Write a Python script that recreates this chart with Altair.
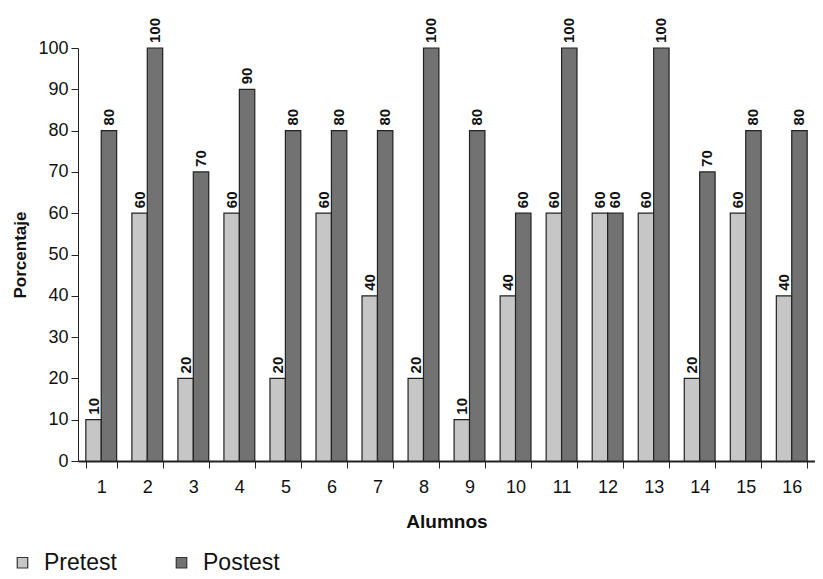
import altair as alt
import pandas as pd

alumnos = [str(i) for i in range(1, 17)]
pretest = [10, 60, 20, 60, 20, 60, 40, 20, 10, 40, 60, 60, 60, 20, 60, 40]
postest = [80, 100, 70, 90, 80, 80, 80, 100, 80, 60, 100, 60, 100, 70, 80, 80]
series = ["Pretest", "Postest"]

rows = []
for a, p, q in zip(alumnos, pretest, postest):
    rows.append({"Alumno": a, "Serie": series[0], "Valor": p})
    rows.append({"Alumno": a, "Serie": series[1], "Valor": q})
df = pd.DataFrame(rows)

FONT = "Liberation Sans"

x = alt.X("Alumno:N", sort=alumnos,
          scale=alt.Scale(paddingInner=0.33, paddingOuter=0.17),
          axis=alt.Axis(title="Alumnos", labelAngle=0, tickBand="extent",
                        labelFontSize=18, titleFontSize=19, titleFontWeight="bold",
                        labelPadding=10, titlePadding=16,
                        domainColor="#222", tickColor="#222",
                        domainWidth=2, labelColor="#111", titleColor="#111",
                        labelFont=FONT, titleFont=FONT, tickSize=7))
xo = alt.XOffset("Serie:N", sort=series)
y = alt.Y("Valor:Q", scale=alt.Scale(domain=[0, 100]),
          axis=alt.Axis(title="Porcentaje", values=list(range(0, 101, 10)),
                        grid=False, labelFontSize=18, titleFontSize=17,
                        titleFontWeight="bold", titlePadding=8, labelPadding=3,
                        domainColor="#222", tickColor="#222", tickSize=7,
                        labelColor="#111", titleColor="#111",
                        labelFont=FONT, titleFont=FONT))

color = alt.Color("Serie:N", sort=series,
                  scale=alt.Scale(domain=series, range=["#c6c6c6", "#727272"]),
                  legend=alt.Legend(title=None, orient="none", direction="horizontal",
                                    legendX=-67, legendY=503, symbolType="square",
                                    symbolSize=110, symbolStrokeColor="#333",
                                    symbolStrokeWidth=1.2, labelFontSize=23,
                                    labelFont=FONT, labelColor="#111",
                                    labelOffset=10, columnPadding=53,
                                    symbolOpacity=1))

bars = alt.Chart(df).mark_bar(stroke="#222", strokeWidth=1.2, opacity=1).encode(
    x=x, xOffset=xo, y=y, color=color)

labels = alt.Chart(df).mark_text(angle=270, align="left", baseline="middle",
                                 dx=5, fontSize=15, fontWeight="bold", font=FONT,
                                 color="#111").encode(
    x=x, xOffset=xo, y=y, text=alt.Text("Valor:Q"))

chart = alt.layer(bars, labels).properties(
    width=737, height=413,
    autosize=alt.AutoSizeParams(type="none"),
    padding={"left": 70, "top": 40, "right": 0, "bottom": 118},
).configure_view(stroke=None).configure_axisX(domainWidth=2)

chart.save("out.html", embed_options={"renderer": "svg", "actions": False})
